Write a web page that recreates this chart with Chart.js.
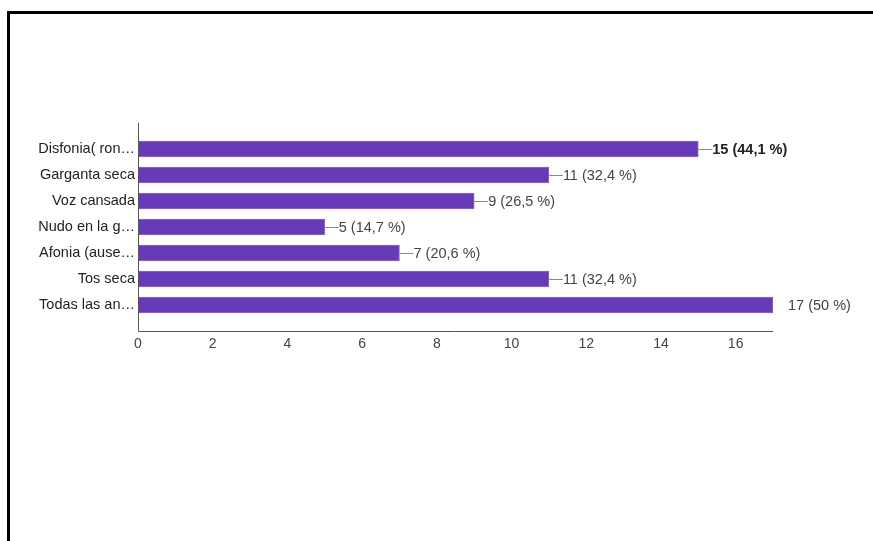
<!DOCTYPE html>
<html>
<head>
<meta charset="utf-8">
<script src="https://cdn.jsdelivr.net/npm/chart.js@4/dist/chart.umd.min.js"></script>
<style>
  html, body { margin: 0; padding: 0; background: #fff; }
  #wrap { width: 873px; height: 541px; }
</style>
</head>
<body>
<div id="wrap"><canvas id="c" width="873" height="541"></canvas></div>
<script>
// Responses per symptom
const categories = [
  "Disfonia( ron…",
  "Garganta seca",
  "Voz cansada",
  "Nudo en la g…",
  "Afonia (ause…",
  "Tos seca",
  "Todas las an…"
];
const counts = [15, 11, 9, 5, 7, 11, 17];
const percents = [44.1, 32.4, 26.5, 14.7, 20.6, 32.4, 50];
const xTickValues = [0, 2, 4, 6, 8, 10, 12, 14, 16];
const xMax = 17;
const highlightIndex = 0;

const FONT = "'Liberation Sans', Arial, sans-serif";
const FONT_SIZE = 14.5;

function pctText(p) {
  return String(p).replace('.', ',');
}

// Frame around the figure plus the extended axis lines
const framePlugin = {
  id: 'frame',
  beforeDraw(chart) {
    const ctx = chart.ctx;
    ctx.save();
    ctx.fillStyle = '#fff';
    ctx.fillRect(0, 0, chart.width, chart.height);
    ctx.fillStyle = '#000';
    ctx.fillRect(7, 11, chart.width - 7, 3);
    ctx.fillRect(7, 11, 3, chart.height - 11);
    ctx.restore();
  },
  afterDatasetsDraw(chart) {
    const ctx = chart.ctx;
    const a = chart.chartArea;
    const x = chart.scales.x;
    const x0 = Math.round(x.getPixelForValue(0)) + 0.5;
    const xEnd = x.getPixelForValue(xMax);
    const yBottom = Math.round(a.bottom + 13) + 0.5;
    ctx.save();
    ctx.strokeStyle = '#555';
    ctx.lineWidth = 1;
    ctx.beginPath();
    ctx.moveTo(x0, a.top - 13);
    ctx.lineTo(x0, yBottom);
    ctx.lineTo(xEnd, yBottom);
    ctx.stroke();
    ctx.restore();
  }
};

// Value annotations with leader lines
const valueLabels = {
  id: 'valueLabels',
  afterDatasetsDraw(chart) {
    const ctx = chart.ctx;
    const meta = chart.getDatasetMeta(0);
    ctx.save();
    ctx.textBaseline = 'middle';
    ctx.textAlign = 'left';
    meta.data.forEach((bar, i) => {
      const v = counts[i];
      const txt = v + ' (' + pctText(percents[i]) + ' %)';
      const endX = bar.x;
      const y = bar.y;
      let tx;
      if (v >= xMax) {
        tx = endX + 15;
      } else {
        ctx.strokeStyle = '#888';
        ctx.lineWidth = 1;
        ctx.beginPath();
        ctx.moveTo(endX, Math.round(y) + 0.5);
        ctx.lineTo(endX + 14, Math.round(y) + 0.5);
        ctx.stroke();
        tx = endX + 14;
      }
      if (i === highlightIndex) {
        ctx.font = 'bold ' + FONT_SIZE + 'px ' + FONT;
        ctx.fillStyle = '#222';
      } else {
        ctx.font = FONT_SIZE + 'px ' + FONT;
        ctx.fillStyle = '#444';
      }
      ctx.fillText(txt, tx, y + 0.5);
    });
    ctx.restore();
  }
};

new Chart(document.getElementById('c'), {
  type: 'bar',
  data: {
    labels: categories,
    datasets: [{
      data: counts,
      backgroundColor: '#673ab7',
      borderColor: '#8e6cc9',
      borderWidth: 1,
      barThickness: 16,
      borderSkipped: false
    }]
  },
  options: {
    indexAxis: 'y',
    responsive: false,
    animation: false,
    devicePixelRatio: 1,
    layout: { padding: { left: 0, top: 136, right: 100, bottom: 0 } },
    plugins: {
      legend: { display: false },
      tooltip: { enabled: false },
      title: { display: false }
    },
    scales: {
      x: {
        type: 'linear',
        min: 0,
        max: xMax,
        afterBuildTicks(scale) {
          scale.ticks = xTickValues.map(v => ({ value: v }));
        },
        afterFit(scale) { scale.height = 541 - 318; },
        grid: { display: false, drawTicks: false },
        border: { display: false },
        ticks: {
          padding: 18,
          color: '#444',
          font: { family: FONT, size: 14 },
          maxRotation: 0,
          autoSkip: false
        }
      },
      y: {
        type: 'category',
        afterFit(scale) { scale.width = 138; },
        grid: { display: false, drawTicks: false },
        border: { display: false },
        ticks: {
          padding: 3,
          color: '#222',
          font: { family: FONT, size: FONT_SIZE },
          autoSkip: false
        }
      }
    }
  },
  plugins: [framePlugin, valueLabels]
});
</script>
</body>
</html>
